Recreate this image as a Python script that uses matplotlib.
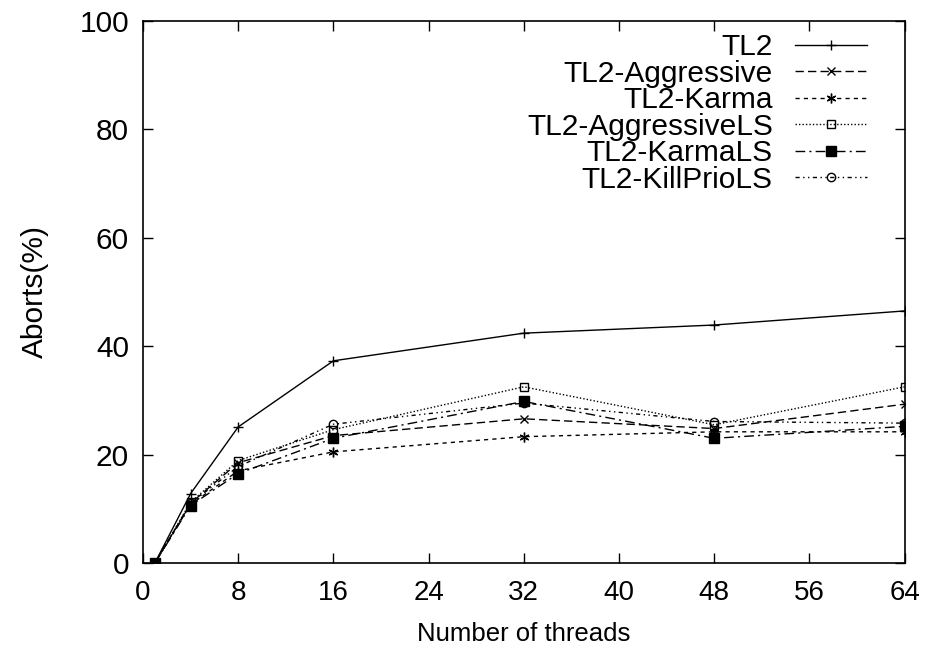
import matplotlib
matplotlib.use("Agg")
import matplotlib.pyplot as plt

threads = [1, 4, 8, 16, 32, 48, 64]
tl2 = [0, 12.8, 25.1, 37.3, 42.4, 43.9, 46.5]
tl2_aggressive = [0, 11.0, 18.5, 23.5, 26.6, 24.8, 29.3]
tl2_karma = [0, 10.8, 17.0, 20.5, 23.3, 24.2, 24.2]
tl2_aggressive_ls = [0, 11.2, 18.9, 24.6, 32.5, 25.5, 32.5]
tl2_karma_ls = [0, 10.6, 16.5, 23.0, 29.8, 23.0, 25.2]
tl2_killprio_ls = [0, 11.0, 17.8, 25.6, 29.5, 26.1, 25.8]

labels = ["TL2", "TL2-Aggressive", "TL2-Karma", "TL2-AggressiveLS", "TL2-KarmaLS", "TL2-KillPrioLS"]
series = [tl2, tl2_aggressive, tl2_karma, tl2_aggressive_ls, tl2_karma_ls, tl2_killprio_ls]
xticks = [0, 8, 16, 24, 32, 40, 48, 56, 64]
yticks = [0, 20, 40, 60, 80, 100]

plt.rcParams['font.family'] = ['Liberation Sans', 'DejaVu Sans']

styles = [
    dict(linestyle='-', marker='+', ms=7, mfc='none'),
    dict(linestyle=(0, (6, 3)), marker='x', ms=6, mfc='none'),
    dict(linestyle=(0, (3, 3)), marker=(6, 2, 0), ms=7, mfc='none'),
    dict(linestyle=(0, (1, 1.5)), marker='s', ms=6, mfc='none'),
    dict(linestyle=(0, (7, 3, 1.5, 3)), marker='s', ms=6.5, mfc='black'),
    dict(linestyle=(0, (3, 2.5, 1, 2.5, 1, 2.5)), marker='o', ms=6, mfc='none'),
]

fig = plt.figure(figsize=(9.25, 6.55), dpi=100)
ax = fig.add_axes([0.1546, 0.1405, 0.8234, 0.8275])

for lab, ys, st in zip(labels, series, styles):
    ax.plot(threads, ys, color='black', lw=1.0, mew=1.0, mec='black', label=lab, **st)

ax.set_xlim(0, 64)
ax.set_ylim(0, 100)
ax.set_xticks(xticks)
ax.set_yticks(yticks)
ax.tick_params(direction='in', top=True, right=True, length=7, width=1, labelsize=21.5)
ax.tick_params(axis='x', pad=12, labelsize=20)
ax.tick_params(axis='y', pad=10)
for s in ax.spines.values():
    s.set_linewidth(1.2)

ax.set_xlabel("Number of threads", fontsize=18.5, labelpad=12)
ax.set_ylabel("Aborts(%)", fontsize=21.5, labelpad=22)

leg = ax.legend(loc='upper right', bbox_to_anchor=(0.97, 1.005), markerfirst=False, frameon=False,
                fontsize=21.5, handlelength=2.4, handletextpad=0.75, labelspacing=-0.05,
                borderaxespad=0.1)
leg._legend_box.align = "right"

fig.savefig("out.png", dpi=100)
